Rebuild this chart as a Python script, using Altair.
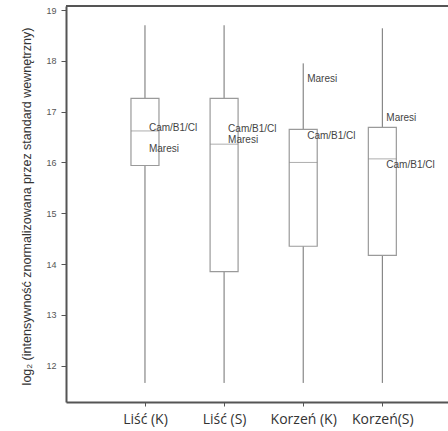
import altair as alt
import pandas as pd

# Box-plot summaries per sample group (log2 normalised intensity)
groups = ["Liść (K)", "Liść (S)", "Korzeń (K)", "Korzeń(S)"]
whisker_low = [11.66, 11.66, 11.66, 11.66]
box_low = [15.94, 13.85, 14.35, 14.17]
medians = [16.62, 16.36, 16.00, 16.07]
box_high = [17.26, 17.26, 16.65, 16.69]
whisker_high = [18.70, 18.70, 17.95, 18.64]

# Cultivar annotations placed beside each box
label_group = ["Liść (K)", "Liść (K)", "Liść (S)", "Liść (S)",
               "Korzeń (K)", "Korzeń (K)", "Korzeń(S)", "Korzeń(S)"]
label_text = ["Cam/B1/Cl", "Maresi", "Cam/B1/Cl", "Maresi",
              "Maresi", "Cam/B1/Cl", "Maresi", "Cam/B1/Cl"]
label_level = [16.67, 16.27, 16.655, 16.45, 17.65, 16.52, 16.875, 15.94]

W, H = 382, 396

stats = pd.DataFrame({
    "grupa": groups, "min": whisker_low, "q1": box_low,
    "med": medians, "q3": box_high, "max": whisker_high,
})
labels = pd.DataFrame({"grupa": label_group, "tekst": label_text,
                       "poziom": label_level})

x_enc = alt.X(
    "grupa:N", sort=groups, title=None,
    scale=alt.Scale(type="point", padding=0.914, align=0.546),
    axis=alt.Axis(labelAngle=0, labelFont="Open Sans", labelFontSize=14,
                  labelColor="#333", labelPadding=6, tickSize=4,
                  tickColor="#555", domainColor="#555", domainWidth=2,
                  grid=False),
)
y_scale = alt.Scale(domain=[11.285, 19.079], nice=False, zero=False)
y_axis = alt.Axis(
    values=[12, 13, 14, 15, 16, 17, 18, 19], format="d", grid=False,
    labelFont="Liberation Sans", labelFontSize=9, labelColor="#555",
    labelAngle=0, labelAlign="right", labelBaseline="middle",
    tickSize=5, tickColor="#555", domainColor="#555", domainWidth=2,
    labelPadding=5,
    title="log₂ (intensywność znormalizowana przez standard wewnętrzny)",
    titleFont="Liberation Sans", titleFontSize=12.5, titleFontWeight="normal",
    titleColor="#333", titleX=-40, titleY=H / 2 + 2, titleAngle=270,
    titleAlign="center", titleBaseline="middle",
)

base = alt.Chart(stats)

whiskers = base.mark_rule(color="#707070", strokeWidth=1).encode(
    x=x_enc,
    y=alt.Y("min:Q", scale=y_scale, axis=y_axis),
    y2="max:Q",
)

boxes = base.mark_bar(size=28, fill="white", stroke="#9a9a9a",
                      strokeWidth=1.2).encode(
    x=x_enc, y=alt.Y("q1:Q", scale=y_scale), y2="q3:Q",
)

median_ticks = base.mark_tick(size=28, thickness=1, color="#8a8a8a",
                              orient="horizontal").encode(
    x=x_enc, y=alt.Y("med:Q", scale=y_scale),
)

texts = alt.Chart(labels).mark_text(
    align="left", baseline="middle", dx=4, fontSize=10,
    font="Liberation Sans", color="#444",
).encode(
    x=x_enc, y=alt.Y("poziom:Q", scale=y_scale), text="tekst:N",
)

top_border = alt.Chart(stats).mark_rule(color="#555", strokeWidth=2).encode(
    x=alt.value(0), x2=alt.value(W), y=alt.value(0),
)

chart = alt.layer(whiskers, boxes, median_ticks, texts, top_border).properties(
    width=W, height=H,
    autosize=alt.AutoSizeParams(type="none"),
    padding={"left": 66, "top": 6, "right": 0, "bottom": 29},
    background="white",
).configure_view(stroke=None)

chart.save("out.html", embed_options={"renderer": "svg", "actions": False})
